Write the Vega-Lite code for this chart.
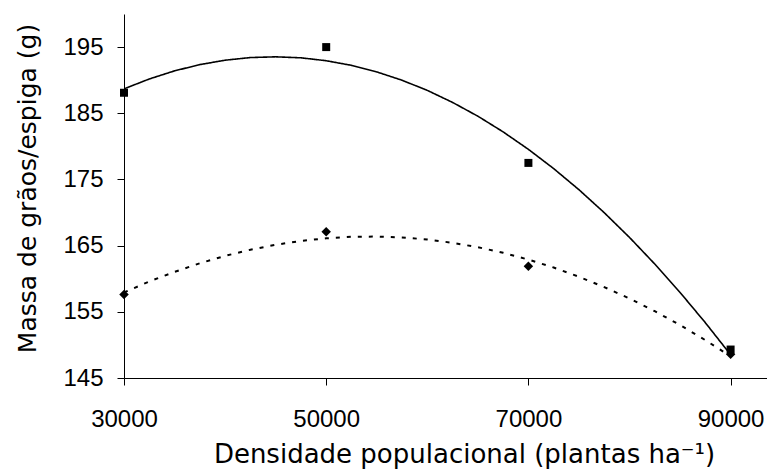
{
  "$schema": "https://vega.github.io/schema/vega-lite/v6.json",
  "width": 643,
  "height": 364,
  "autosize": "none",
  "padding": {"left": 124, "top": 14, "right": 0, "bottom": 92},
  "background": "white",
  "config": {
    "view": {"stroke": null},
    "font": "Liberation Sans",
    "axis": {
      "domainColor": "black",
      "tickColor": "black",
      "labelColor": "black",
      "titleColor": "black",
      "grid": false,
      "labelFont": "Liberation Sans",
      "titleFont": "DejaVu Sans",
      "labelFontSize": 24,
      "titleFontSize": 25,
      "titleFontWeight": "normal",
      "tickSize": 7,
      "domainWidth": 1,
      "tickWidth": 1,
      "labelFlush": false,
      "labelOverlap": false
    }
  },
  "datasets": {
    "fit": [
      {"x": 30000, "y": 188.69, "s": "A"}, {"x": 32500, "y": 190.18, "s": "A"}, {"x": 35000, "y": 191.41, "s": "A"},
      {"x": 37500, "y": 192.35, "s": "A"}, {"x": 40000, "y": 193.02, "s": "A"}, {"x": 42500, "y": 193.42, "s": "A"},
      {"x": 45000, "y": 193.53, "s": "A"}, {"x": 47500, "y": 193.38, "s": "A"}, {"x": 50000, "y": 192.94, "s": "A"},
      {"x": 52500, "y": 192.24, "s": "A"}, {"x": 55000, "y": 191.25, "s": "A"}, {"x": 57500, "y": 189.99, "s": "A"},
      {"x": 60000, "y": 188.46, "s": "A"}, {"x": 62500, "y": 186.64, "s": "A"}, {"x": 65000, "y": 184.56, "s": "A"},
      {"x": 67500, "y": 182.19, "s": "A"}, {"x": 70000, "y": 179.55, "s": "A"}, {"x": 72500, "y": 176.64, "s": "A"},
      {"x": 75000, "y": 173.45, "s": "A"}, {"x": 77500, "y": 169.98, "s": "A"}, {"x": 80000, "y": 166.24, "s": "A"},
      {"x": 82500, "y": 162.22, "s": "A"}, {"x": 85000, "y": 157.93, "s": "A"}, {"x": 87500, "y": 153.36, "s": "A"},
      {"x": 90000, "y": 148.52, "s": "A"},
      {"x": 30000, "y": 157.93, "s": "B"}, {"x": 32500, "y": 159.58, "s": "B"}, {"x": 35000, "y": 161.04, "s": "B"},
      {"x": 37500, "y": 162.33, "s": "B"}, {"x": 40000, "y": 163.45, "s": "B"}, {"x": 42500, "y": 164.38, "s": "B"},
      {"x": 45000, "y": 165.13, "s": "B"}, {"x": 47500, "y": 165.71, "s": "B"}, {"x": 50000, "y": 166.11, "s": "B"},
      {"x": 52500, "y": 166.33, "s": "B"}, {"x": 55000, "y": 166.37, "s": "B"}, {"x": 57500, "y": 166.24, "s": "B"},
      {"x": 60000, "y": 165.93, "s": "B"}, {"x": 62500, "y": 165.43, "s": "B"}, {"x": 65000, "y": 164.76, "s": "B"},
      {"x": 67500, "y": 163.92, "s": "B"}, {"x": 70000, "y": 162.89, "s": "B"}, {"x": 72500, "y": 161.69, "s": "B"},
      {"x": 75000, "y": 160.30, "s": "B"}, {"x": 77500, "y": 158.74, "s": "B"}, {"x": 80000, "y": 157.01, "s": "B"},
      {"x": 82500, "y": 155.09, "s": "B"}, {"x": 85000, "y": 153.00, "s": "B"}, {"x": 87500, "y": 150.72, "s": "B"},
      {"x": 90000, "y": 148.27, "s": "B"}
    ],
    "obs": [
      {"x": 30000, "y": 188.1, "s": "A"}, {"x": 50000, "y": 195.0, "s": "A"},
      {"x": 70000, "y": 177.5, "s": "A"}, {"x": 90000, "y": 149.3, "s": "A"},
      {"x": 30000, "y": 157.6, "s": "B"}, {"x": 50000, "y": 167.1, "s": "B"},
      {"x": 70000, "y": 161.9, "s": "B"}, {"x": 90000, "y": 148.6, "s": "B"}
    ]
  },
  "layer": [
    {
      "data": {"name": "fit"},
      "mark": {"type": "line", "color": "black", "clip": true},
      "encoding": {
        "x": {
          "field": "x", "type": "quantitative",
          "scale": {"domain": [30000, 93600], "nice": false, "zero": false},
          "axis": {
            "values": [30000, 50000, 70000, 90000], "format": "d",
            "title": "Densidade populacional (plantas ha⁻¹)",
            "titleFontSize": 26,
            "labelPadding": 22, "titleX": 340, "titleY": 84, "titleBaseline": "alphabetic"
          }
        },
        "y": {
          "field": "y", "type": "quantitative",
          "scale": {"domain": [145, 200], "nice": false, "zero": false},
          "axis": {
            "values": [145, 155, 165, 175, 185, 195],
            "title": "Massa de grãos/espiga (g)",
            "labelPadding": 14, "titleX": -89, "titleY": 174, "titleBaseline": "alphabetic"
          }
        },
        "strokeDash": {
          "field": "s", "type": "nominal",
          "scale": {"domain": ["A", "B"], "range": [[1, 0], [4, 7]]},
          "legend": null
        },
        "strokeWidth": {
          "field": "s", "type": "nominal",
          "scale": {"domain": ["A", "B"], "range": [1.6, 2]},
          "legend": null
        }
      }
    },
    {
      "data": {"name": "obs"},
      "mark": {"type": "point", "filled": true, "color": "black", "opacity": 1},
      "encoding": {
        "x": {"field": "x", "type": "quantitative"},
        "y": {"field": "y", "type": "quantitative"},
        "shape": {
          "field": "s", "type": "nominal",
          "scale": {"domain": ["A", "B"], "range": ["square", "diamond"]},
          "legend": null
        },
        "size": {
          "field": "s", "type": "nominal",
          "scale": {"domain": ["A", "B"], "range": [64, 90]},
          "legend": null
        }
      }
    }
  ]
}
